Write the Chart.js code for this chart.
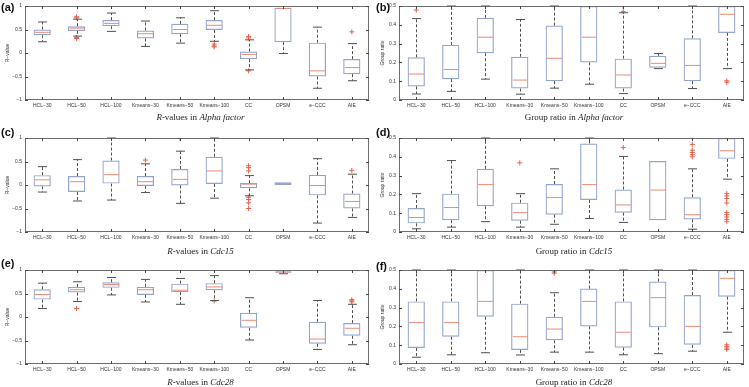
<!DOCTYPE html>
<html>
<head>
<meta charset="utf-8">
<script src="https://cdn.jsdelivr.net/npm/chart.js@4.4.1/dist/chart.umd.min.js"></script>
<style>
  body { margin: 0; background: #fff; width: 749px; height: 387px; position: relative; overflow: hidden; }
  canvas.panel { position: absolute; }
  .tag { position: absolute; font: bold 11px "Liberation Sans", Arial, sans-serif; color: #111; }
  .cap { position: absolute; text-align: center; font: 9px "Liberation Serif", "Times New Roman", serif; color: #222; line-height: 12px; }
</style>
</head>
<body>
<canvas class="panel" id="pa" width="374" height="113" style="left:0;top:0"></canvas>
<canvas class="panel" id="pb" width="374" height="113" style="left:375px;top:0"></canvas>
<canvas class="panel" id="pc" width="374" height="113" style="left:0;top:132px"></canvas>
<canvas class="panel" id="pd" width="374" height="113" style="left:375px;top:132px"></canvas>
<canvas class="panel" id="pe" width="374" height="113" style="left:0;top:264px"></canvas>
<canvas class="panel" id="pf" width="374" height="113" style="left:375px;top:264px"></canvas>

<div class="tag" style="left:1px;top:1px">(a)</div>
<div class="tag" style="left:376px;top:1px">(b)</div>
<div class="tag" style="left:1px;top:126px">(c)</div>
<div class="tag" style="left:376px;top:126px">(d)</div>
<div class="tag" style="left:1px;top:257px">(e)</div>
<div class="tag" style="left:376px;top:260px">(f)</div>

<div class="cap" style="left:28px;width:345px;top:111px"><i>R</i>-values in <i>Alpha factor</i></div>
<div class="cap" style="left:401px;width:346px;top:111px">Group ratio in <i>Alpha factor</i></div>
<div class="cap" style="left:28px;width:345px;top:245px"><i>R</i>-values in <i>Cdc15</i></div>
<div class="cap" style="left:401px;width:346px;top:245px">Group ratio in <i>Cdc15</i></div>
<div class="cap" style="left:28px;width:345px;top:376px"><i>R</i>-values in <i>Cdc28</i></div>
<div class="cap" style="left:401px;width:346px;top:376px">Group ratio in <i>Cdc28</i></div>

<script>
const categories = ['HCL\u221230', 'HCL\u221250', 'HCL\u2212100', 'Kmeans\u221230', 'Kmeans\u221250',
                    'Kmeans\u2212100', 'CC', 'OPSM', 'e\u2212CCC', 'AIE'];

const rTicks = [-1, -0.5, 0, 0.5, 1];
const ratioTicks = [0, 0.1, 0.2, 0.3, 0.4, 0.5];

// each box: [lower whisker, q1, median, q3, upper whisker]
const alphaR = [
  [0.24, 0.38, 0.44, 0.50, 0.66], [0.36, 0.47, 0.53, 0.57, 0.72], [0.46, 0.57, 0.63, 0.70, 0.85],
  [0.14, 0.31, 0.41, 0.48, 0.68], [0.21, 0.40, 0.50, 0.62, 0.75], [0.25, 0.49, 0.59, 0.70, 0.90],
  [-0.36, -0.13, -0.03, 0.03, 0.28], [-0.01, 0.23, 0.95, 0.96, 0.96], [-0.75, -0.50, -0.38, 0.22, 0.55],
  [-0.59, -0.45, -0.31, -0.13, 0.20]
];
// outliers: [category index, value]
const alphaROut = [[1, 0.77], [1, 0.75], [1, 0.33], [1, 0.31], [5, 0.19], [5, 0.15], [5, 0.13],
                   [6, 0.35], [6, 0.32], [6, -0.38], [9, 0.45]];

const alphaRatio = [
  [0.032, 0.072, 0.138, 0.227, 0.433], [0.046, 0.111, 0.162, 0.293, 0.5], [0.111, 0.249, 0.334, 0.437, 0.5],
  [0.031, 0.061, 0.106, 0.230, 0.428], [0.063, 0.100, 0.222, 0.396, 0.5], [0.084, 0.200, 0.334, 0.5, 0.5],
  [0.034, 0.061, 0.133, 0.220, 0.464], [0.167, 0.172, 0.195, 0.235, 0.247], [0.061, 0.100, 0.184, 0.328, 0.5],
  [0.167, 0.357, 0.456, 0.5, 0.5]
];
const alphaRatioOut = [[0, 0.478], [6, 0.497], [6, 0.47], [9, 0.102], [9, 0.094]];

const cdc15R = [
  [-0.15, -0.03, 0.11, 0.21, 0.39], [-0.34, -0.15, 0.07, 0.19, 0.54], [-0.32, 0.03, 0.22, 0.52, 1.0],
  [-0.16, -0.02, 0.07, 0.19, 0.45], [-0.39, -0.01, 0.12, 0.34, 0.72], [-0.28, 0.02, 0.30, 0.60, 1.0],
  [-0.23, -0.07, 0.02, 0.04, 0.20], [0.0, 0.0, 0.03, 0.06, 0.06], [-0.81, -0.22, -0.01, 0.215, 0.56],
  [-0.69, -0.50, -0.35, -0.18, 0.23]
];
const cdc15ROut = [[3, 0.53], [4, 1.0], [6, 0.41], [6, 0.37], [6, 0.30], [6, -0.26], [6, -0.31],
                   [6, -0.38], [6, -0.50], [9, 0.31]];

const cdc15Ratio = [
  [0.017, 0.046, 0.077, 0.128, 0.204], [0.026, 0.063, 0.130, 0.204, 0.38], [0.055, 0.137, 0.252, 0.336, 0.5],
  [0.026, 0.060, 0.103, 0.156, 0.204], [0.041, 0.092, 0.183, 0.255, 0.336], [0.072, 0.170, 0.252, 0.471, 0.5],
  [0.051, 0.103, 0.144, 0.226, 0.402], [0.063, 0.063, 0.223, 0.377, 0.377], [0.015, 0.067, 0.092, 0.185, 0.336],
  [0.281, 0.389, 0.432, 0.5, 0.5]
];
const cdc15RatioOut = [[3, 0.368], [4, 0.5], [6, 0.449], [8, 0.5], [8, 0.466], [8, 0.435], [8, 0.423],
                       [8, 0.411], [8, 0.40], [9, 0.204], [9, 0.192], [9, 0.178], [9, 0.154], [9, 0.103],
                       [9, 0.092], [9, 0.08], [9, 0.067], [9, 0.055]];

const cdc28R = [
  [0.18, 0.37, 0.48, 0.59, 0.72], [0.33, 0.52, 0.58, 0.64, 0.75], [0.47, 0.62, 0.69, 0.74, 0.84],
  [0.32, 0.47, 0.58, 0.64, 0.80], [0.27, 0.53, 0.57, 0.71, 0.82], [0.35, 0.57, 0.64, 0.72, 0.88],
  [-0.49, -0.23, -0.07, 0.09, 0.41], [0.92, 0.94, 0.96, 0.97, 0.99], [-0.69, -0.57, -0.47, -0.10, 0.35],
  [-0.59, -0.40, -0.24, -0.13, 0.27]
];
const cdc28ROut = [[1, 0.18], [5, 0.34], [9, 0.37], [9, 0.345], [9, 0.32]];

const cdc28Ratio = [
  [0.036, 0.085, 0.220, 0.333, 0.5], [0.049, 0.145, 0.220, 0.333, 0.5], [0.060, 0.251, 0.333, 0.5, 0.5],
  [0.048, 0.075, 0.145, 0.321, 0.5], [0.063, 0.126, 0.186, 0.251, 0.379], [0.063, 0.200, 0.333, 0.401, 0.5],
  [0.049, 0.087, 0.169, 0.333, 0.5], [0.055, 0.195, 0.353, 0.439, 0.5], [0.068, 0.102, 0.200, 0.367, 0.5],
  [0.169, 0.358, 0.456, 0.5, 0.5]
];
const cdc28RatioOut = [[4, 0.5], [4, 0.49], [4, 0.483], [9, 0.102], [9, 0.094], [9, 0.085], [9, 0.077]];

const BOX = '#93a4cc';
const MED = '#ec8a72';
const WHISK = '#505050';
const FLIER = '#e8604c';

// whiskers, caps and medians drawn from the scales
const boxPlot = {
  id: 'boxPlot',
  afterDatasetsDraw(chart, args, opts) {
    const { ctx, scales: { x, y } } = chart;
    const step = x.getPixelForValue(1) - x.getPixelForValue(0);
    const half = step * 0.25;
    const capHalf = half * 0.52;
    const line = (x1, y1, x2, y2) => { ctx.beginPath(); ctx.moveTo(x1, y1); ctx.lineTo(x2, y2); ctx.stroke(); };
    ctx.save();
    ctx.lineWidth = 1;
    opts.stats.forEach((s, i) => {
      const cx = Math.round(x.getPixelForValue(i)) + 0.5;
      const [lo, q1, med, q3, hi] = s.map(v => y.getPixelForValue(v));
      ctx.strokeStyle = WHISK;
      ctx.setLineDash([3, 2]);
      if (hi < q3 - 1) line(cx, q3, cx, hi);
      if (lo > q1 + 1) line(cx, q1, cx, lo);
      ctx.setLineDash([]);
      if (hi < q3 - 0.5) line(cx - capHalf, hi, cx + capHalf, hi);
      if (lo > q1 + 0.5) line(cx - capHalf, lo, cx + capHalf, lo);
      ctx.strokeStyle = MED;
      line(cx - half + 1, med, cx + half - 1, med);
    });
    ctx.restore();
  }
};

// frame and inward ticks, matlab style
const frame = {
  id: 'frame',
  afterDraw(chart) {
    const { ctx, chartArea: a, scales: { x, y } } = chart;
    ctx.save();
    ctx.strokeStyle = '#6e6e6e';
    ctx.lineWidth = 1;
    ctx.strokeRect(Math.round(a.left) + 0.5, Math.round(a.top) + 0.5,
                   Math.round(a.right - a.left) - 1, Math.round(a.bottom - a.top) - 1);
    ctx.strokeStyle = '#444';
    ctx.beginPath();
    x.ticks.forEach((t, i) => {
      const px = Math.round(x.getPixelForTick(i)) + 0.5;
      ctx.moveTo(px, a.bottom); ctx.lineTo(px, a.bottom - 3);
      ctx.moveTo(px, a.top); ctx.lineTo(px, a.top + 3);
    });
    y.ticks.forEach((t, i) => {
      const py = Math.round(y.getPixelForTick(i)) + 0.5;
      ctx.moveTo(a.left, py); ctx.lineTo(a.left + 3, py);
      ctx.moveTo(a.right, py); ctx.lineTo(a.right - 3, py);
    });
    ctx.stroke();
    ctx.restore();
  }
};

function fmt(v) {
  const s = String(Number(v.toFixed(2)));
  return s.replace('-', '\u2212');
}

function makePanel(id, stats, outliers, tickVals, yTitle, axisW) {
  const yMin = tickVals[0], yMax = tickVals[tickVals.length - 1];
  new Chart(document.getElementById(id), {
    type: 'bar',
    data: {
      labels: categories,
      datasets: [
        {
          data: stats.map(s => [s[1], s[3]]),
          backgroundColor: 'rgba(0,0,0,0)',
          borderColor: BOX,
          borderWidth: 1.2,
          borderSkipped: false,
          categoryPercentage: 1,
          barPercentage: 0.5
        },
        {
          type: 'line',
          data: outliers.map(o => ({ x: categories[o[0]], y: o[1] })),
          showLine: false,
          pointStyle: 'cross',
          pointRadius: 2.5,
          pointBorderWidth: 1,
          borderColor: FLIER,
          backgroundColor: FLIER
        }
      ]
    },
    options: {
      responsive: false,
      animation: false,
      devicePixelRatio: 1,
      layout: { padding: { top: 3, right: 4, left: 0, bottom: 0 } },
      plugins: {
        legend: { display: false },
        tooltip: { enabled: false },
        boxPlot: { stats: stats }
      },
      scales: {
        x: {
          offset: true,
          grid: { display: false, drawTicks: false },
          border: { display: false },
          ticks: { font: { size: 5, family: 'Liberation Sans' }, color: '#333', padding: 3, maxRotation: 0, autoSkip: false },
          afterFit: s => { s.height = 13; }
        },
        y: {
          min: yMin,
          max: yMax,
          afterBuildTicks: s => { s.ticks = tickVals.map(v => ({ value: v })); },
          grid: { display: false, drawTicks: false },
          border: { display: false },
          ticks: { font: { size: 5, family: 'Liberation Sans' }, color: '#333', padding: 3, callback: v => fmt(v) },
          title: { display: true, text: yTitle, font: { size: 5, family: 'Liberation Sans' }, color: '#333', padding: { top: 5, bottom: 0 } },
          afterFit: s => { s.width = axisW; }
        }
      }
    },
    plugins: [boxPlot, frame]
  });
}

makePanel('pa', alphaR, alphaROut, rTicks, 'R\u2212value', 25);
makePanel('pb', alphaRatio, alphaRatioOut, ratioTicks, 'Group ratio', 24);
makePanel('pc', cdc15R, cdc15ROut, rTicks, 'R\u2212value', 25);
makePanel('pd', cdc15Ratio, cdc15RatioOut, ratioTicks, 'Group ratio', 24);
makePanel('pe', cdc28R, cdc28ROut, rTicks, 'R\u2212value', 25);
makePanel('pf', cdc28Ratio, cdc28RatioOut, ratioTicks, 'Group ratio', 24);
</script>
</body>
</html>
